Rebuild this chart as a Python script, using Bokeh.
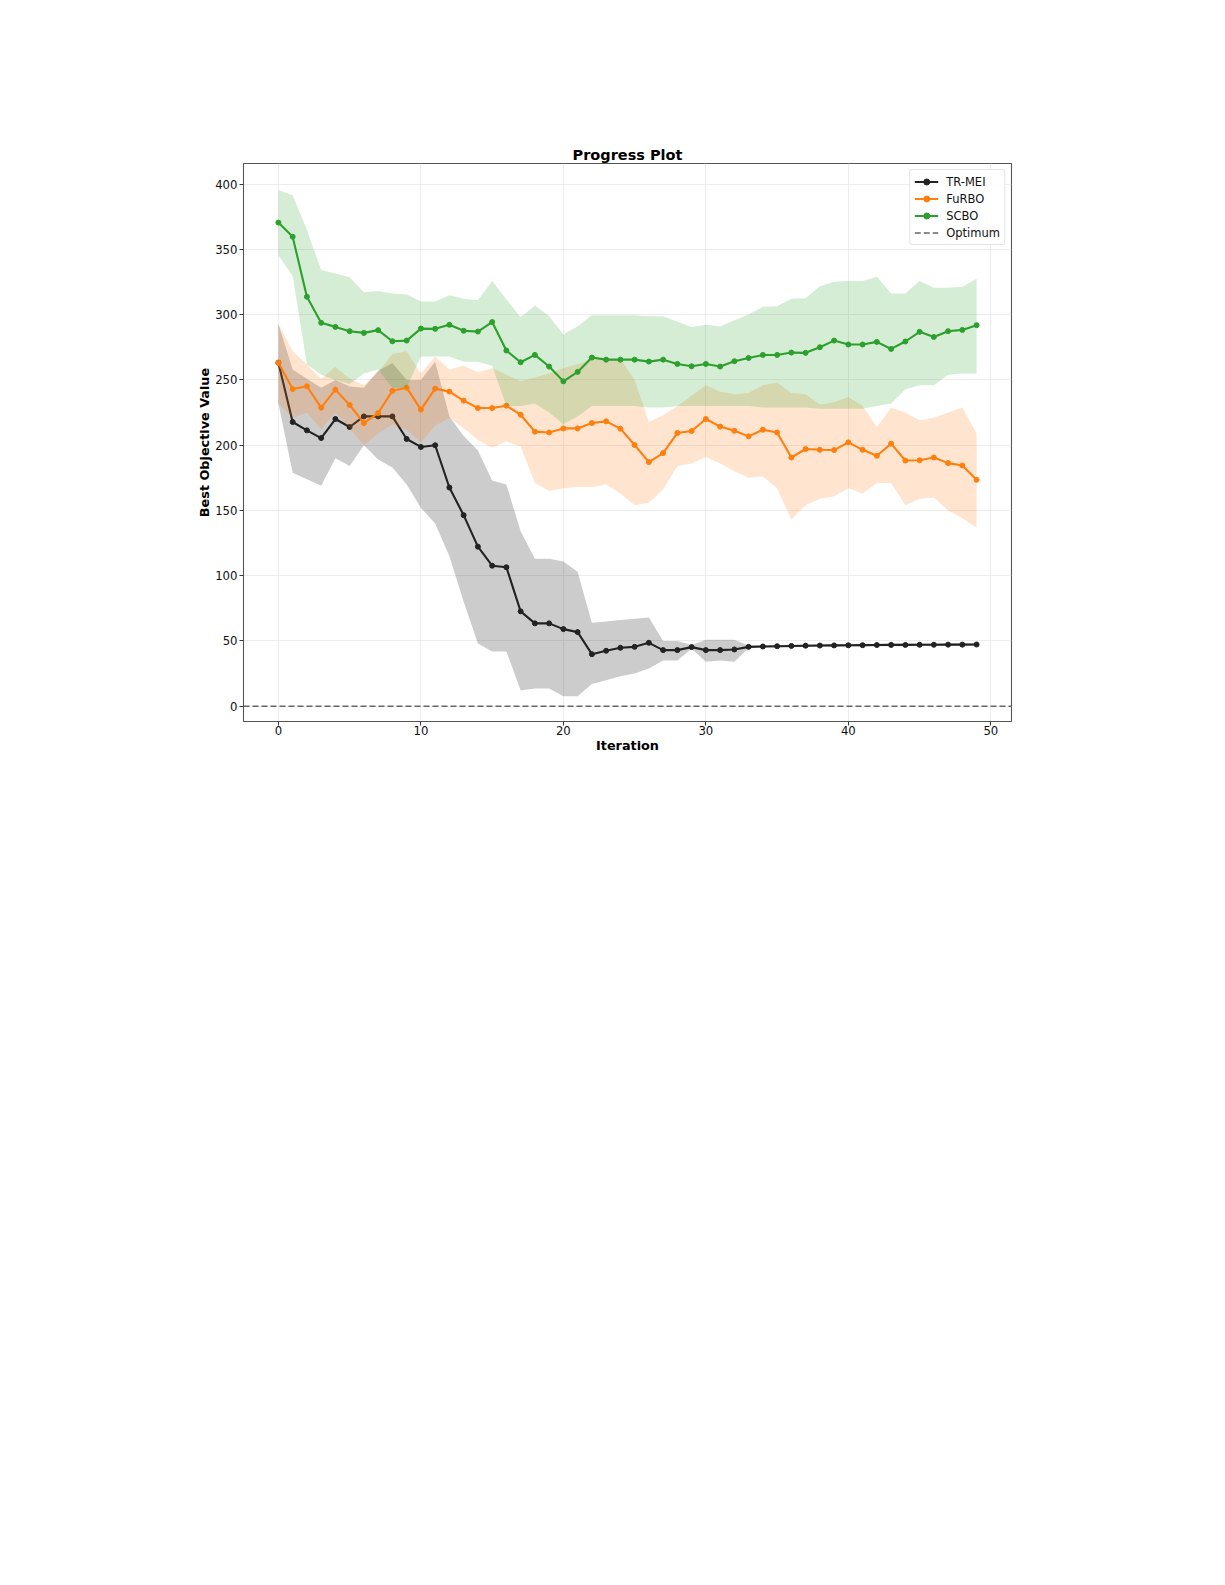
from bokeh.plotting import figure
from bokeh.models import ColumnDataSource, Range1d, FixedTicker, Legend, LegendItem
from bokeh.embed import file_html
from bokeh.resources import INLINE

# x positions (iteration index)
iterations = list(range(50))

tr_mei_mean = [263.3, 217.8, 211.4, 205.5, 220.1, 214.0, 222.1, 222.1, 222.1, 204.8,
               198.7, 200.0, 167.6, 146.4, 122.3, 107.7, 106.5, 72.7, 63.5, 63.5,
               59.1, 56.8, 39.9, 42.5, 44.8, 45.5, 48.6, 43.0, 43.0, 45.3,
               43.0, 43.0, 43.5, 45.5, 45.8, 46.0, 46.2, 46.4, 46.5, 46.6,
               46.7, 46.8, 46.9, 47.0, 47.0, 47.1, 47.1, 47.2, 47.2, 47.3]
tr_mei_upper = [293, 258, 251, 244, 250, 245, 244, 257, 263, 250,
                250, 264, 222, 207, 196, 173, 170, 134, 113, 113,
                111, 103, 64, 65, 66, 67, 68, 50, 50, 47,
                51, 51, 51, 46.5, 46.8, 47.0, 47.2, 47.4, 47.5, 47.6,
                47.7, 47.8, 47.9, 48.0, 48.0, 48.1, 48.1, 48.2, 48.2, 48.3]
tr_mei_lower = [232, 179, 174, 169, 190, 184, 200, 189, 183, 170,
                152, 140, 115, 80, 48, 42, 42, 12, 13.5, 13.5,
                7.7, 7.7, 17, 20, 23, 25, 29, 35, 35, 44,
                34, 35, 34, 44.5, 44.8, 45.0, 45.2, 45.4, 45.5, 45.6,
                45.7, 45.8, 45.9, 46.0, 46.0, 46.1, 46.1, 46.2, 46.2, 46.3]

furbo_mean = [263.3, 243.1, 245.2, 228.8, 242.6, 230.9, 217.0, 224.7, 241.7, 244.1,
              227.3, 243.4, 241.1, 234.2, 228.5, 228.5, 230.3, 223.4, 210.4, 209.8,
              212.9, 212.9, 217.0, 218.3, 212.7, 200.2, 187.1, 194.0, 209.4, 210.9,
              220.1, 214.3, 211.1, 206.8, 211.9, 209.8, 190.6, 197.1, 196.5, 196.3,
              202.2, 196.5, 191.9, 201.2, 188.3, 188.5, 190.6, 186.3, 184.5, 173.5]
furbo_upper = [293, 272, 262, 251, 260, 251, 246, 256, 270, 272,
               255, 268, 258, 261, 256, 259, 254, 249, 252, 255,
               259, 262, 266, 266, 266, 250, 218, 223, 230, 238,
               246, 241, 239, 240, 246, 248, 240, 239, 231, 233,
               237, 230, 214, 229, 225, 219, 221, 225, 229, 209]
furbo_lower = [232, 221, 225, 212, 225, 213, 200, 209, 216, 212,
               202, 215, 221, 213, 204, 198, 203, 199, 171, 165,
               167, 168, 168, 170, 163, 154, 156, 166, 184, 186,
               191, 186, 180, 175, 176, 167, 143, 154, 159, 161,
               167, 163, 171, 171, 154, 159, 160, 150, 144, 137]

scbo_mean = [370.6, 359.8, 313.8, 293.8, 290.7, 287.4, 286.1, 288.2, 279.7, 280.2,
             289.4, 289.2, 292.3, 287.7, 287.1, 294.4, 272.6, 263.6, 269.2, 260.3,
             249.0, 256.2, 267.2, 265.6, 265.6, 265.6, 264.1, 265.6, 262.3, 260.5,
             262.3, 260.3, 264.4, 266.9, 269.2, 269.2, 271.0, 270.8, 275.1, 280.2,
             277.2, 277.2, 279.2, 273.8, 279.5, 286.9, 283.0, 287.4, 288.4, 292.0]
scbo_upper = [395.6, 391.6, 365, 334.2, 331.7, 328.8, 317.3, 318.1, 316.3, 315.5,
              310.2, 310.2, 315.0, 312.2, 311.2, 325.8, 311.7, 298.1, 307.1, 298.9,
              284.8, 291.2, 299.7, 299.7, 299.7, 299.7, 298.9, 298.9, 294.6, 290.7,
              292.3, 291.0, 295.8, 300.2, 306.1, 306.6, 312.2, 312.7, 321.9, 325.3,
              325.8, 325.8, 329.1, 316.3, 316.3, 325.8, 320.7, 320.7, 321.5, 327.6]
scbo_lower = [345.5, 329.6, 262, 254, 250, 247, 255, 258, 244, 244,
              268, 268, 268, 264, 264, 261, 230, 230, 232, 225,
              216, 222, 230, 230, 230, 230, 229, 229, 230, 230,
              230, 230, 230, 230, 229, 229, 229, 229, 228, 228,
              228, 228, 230, 232, 243, 246, 246, 254, 255, 255]

optimum = 0
x_ticks = [0, 10, 20, 30, 40, 50]
y_ticks = [0, 50, 100, 150, 200, 250, 300, 350, 400]

# axis limits (matplotlib-style 5% margins)
X_LIM = (-2.45, 51.45)
Y_LIM = (-11.7, 415.9)

FONT = "DejaVu Sans"

p = figure(width=1209, height=1569,
           x_range=Range1d(*X_LIM), y_range=Range1d(*Y_LIM),
           output_backend="svg", toolbar_location=None,
           min_border_left=243, min_border_right=198,
           min_border_top=163, min_border_bottom=848,
           background_fill_color="white", border_fill_color="white")

p.title.text = "Progress Plot"
p.title.align = "center"
p.title.text_font = FONT
p.title.text_font_style = "bold"
p.title.text_font_size = "14.5px"
p.title.text_color = "black"
p.title.standoff = 2

p.outline_line_color = "#555555"
p.outline_line_width = 1.1

p.xaxis.ticker = FixedTicker(ticks=x_ticks)
p.yaxis.ticker = FixedTicker(ticks=y_ticks)
for ax in (p.xaxis[0], p.yaxis[0]):
    ax.axis_line_color = None
    ax.major_tick_line_color = "#333333"
    ax.major_tick_out = 4
    ax.major_tick_in = 0
    ax.minor_tick_line_color = None
    ax.major_label_text_font = FONT
    ax.major_label_text_font_size = "11.7px"
    ax.major_label_text_color = "#111111"
    ax.axis_label_text_font = FONT
    ax.axis_label_text_font_style = "bold"
    ax.axis_label_text_font_size = "12.8px"
    ax.axis_label_text_color = "black"
    ax.axis_label_standoff = 0
p.xaxis.major_label_standoff = 0
p.yaxis.major_label_standoff = 2
p.xaxis.axis_label = "Iteration"
p.yaxis.axis_label = "Best Objective Value"

p.grid.grid_line_color = "#e8e8e8"
p.grid.grid_line_width = 0.8

series = [
    ("TR-MEI", tr_mei_mean, tr_mei_lower, tr_mei_upper, "#222222", "#000000"),
    ("FuRBO", furbo_mean, furbo_lower, furbo_upper, "#ff7f0e", "#ff7f0e"),
    ("SCBO", scbo_mean, scbo_lower, scbo_upper, "#2ca02c", "#2ca02c"),
]

items = []
for name, mean, lo, hi, color, band in series:
    src = ColumnDataSource(dict(x=iterations, mean=mean, lo=lo, hi=hi))
    p.varea(x="x", y1="lo", y2="hi", source=src, fill_color=band, fill_alpha=0.2)
    ln = p.line("x", "mean", source=src, line_color=color, line_width=2.1)
    pts = p.scatter("x", "mean", source=src, size=5, fill_color=color, line_color=color)
    items.append(LegendItem(label=name, renderers=[ln, pts]))

# optimum reference line across the full axis width
opt = p.line(x=list(X_LIM), y=[optimum, optimum], line_color="#666666",
             line_width=1.4, line_dash="6 3")
items.append(LegendItem(label="Optimum", renderers=[opt]))

legend = Legend(items=items, location="top_right")
legend.margin = 6
legend.padding = 4
legend.spacing = 2
legend.label_height = 15
legend.glyph_height = 15
legend.glyph_width = 24
legend.label_standoff = 8
legend.label_text_font = FONT
legend.label_text_font_size = "11.5px"
legend.label_text_color = "#111111"
legend.border_line_color = "#cccccc"
legend.border_line_width = 1
legend.background_fill_alpha = 0.85
legend.border_radius = 3
p.add_layout(legend)

open("out.html", "w").write(file_html(p, INLINE))
